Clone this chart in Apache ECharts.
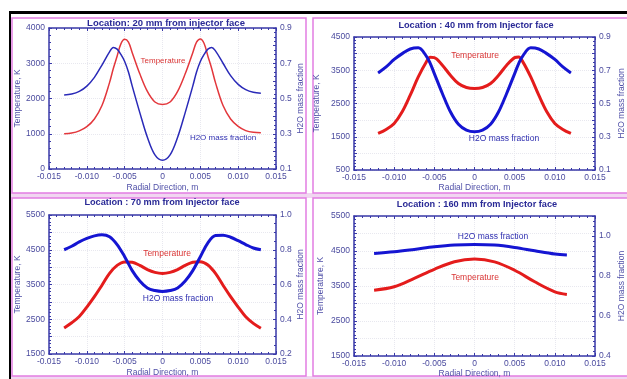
<!DOCTYPE html>
<html>
<head>
<meta charset="utf-8">
<script src="https://cdn.jsdelivr.net/npm/echarts@6/dist/echarts.min.js"></script>
<style>
html,body{margin:0;padding:0;background:#fff;}
#c{width:627px;height:379px;}
</style>
</head>
<body>
<div id="c"></div>
<script>
// ---------- DATA ----------
var titles = [
  'Location: 20 mm from injector face',
  'Location : 40 mm from Injector face',
  'Location : 70 mm from Injector face',
  'Location : 160 mm from Injector face'
];
var xTicks = [-0.015, -0.010, -0.005, 0, 0.005, 0.010, 0.015];

var xs1 = [-0.013,-0.012,-0.011,-0.010,-0.009,-0.008,-0.007,-0.0065,-0.006,-0.0055,-0.005,-0.0045,-0.004,-0.003,-0.002,-0.001,0,
           0.001,0.002,0.003,0.004,0.0045,0.005,0.0055,0.006,0.0065,0.007,0.008,0.009,0.010,0.011,0.012,0.013];
var temp1 = [1000,1020,1080,1200,1420,1800,2450,2850,3200,3550,3680,3600,3300,2700,2200,1900,1830,
             1900,2200,2700,3300,3600,3690,3560,3200,2850,2450,1800,1420,1210,1090,1040,1030];
var h2o1 = [0.52,0.525,0.54,0.57,0.62,0.69,0.765,0.79,0.78,0.75,0.71,0.65,0.57,0.42,0.28,0.18,0.15,
            0.18,0.28,0.42,0.57,0.65,0.71,0.75,0.78,0.79,0.77,0.70,0.63,0.58,0.55,0.535,0.53];

var xs2 = [-0.012,-0.011,-0.010,-0.009,-0.008,-0.007,-0.006,-0.0055,-0.005,-0.004,-0.003,-0.002,-0.001,0,
           0.001,0.002,0.003,0.004,0.005,0.0055,0.006,0.007,0.008,0.009,0.010,0.011,0.012];
var temp2 = [1600,1720,1900,2250,2750,3300,3750,3890,3880,3650,3350,3100,2980,2950,
             2980,3100,3350,3650,3880,3900,3760,3300,2750,2250,1900,1720,1600];
var h2o2 = [0.684,0.72,0.765,0.80,0.828,0.835,0.785,0.74,0.68,0.56,0.45,0.375,0.34,0.33,
            0.34,0.375,0.45,0.56,0.68,0.74,0.785,0.835,0.828,0.80,0.765,0.72,0.684];

var xs3 = [-0.013,-0.012,-0.011,-0.010,-0.009,-0.008,-0.007,-0.006,-0.005,-0.004,-0.003,-0.002,-0.001,0,
           0.001,0.002,0.003,0.004,0.005,0.006,0.007,0.008,0.009,0.010,0.011,0.012,0.013];
var temp3 = [2250,2400,2580,2850,3150,3480,3820,4050,4150,4140,4050,3930,3850,3820,
             3850,3930,4050,4140,4155,4060,3820,3480,3150,2850,2570,2380,2240];
var h2o3 = [0.80,0.82,0.845,0.865,0.88,0.886,0.875,0.83,0.76,0.68,0.62,0.58,0.565,0.56,
            0.565,0.58,0.62,0.68,0.76,0.84,0.882,0.884,0.872,0.852,0.83,0.81,0.80];

var xs4 = [-0.0125,-0.010,-0.0075,-0.005,-0.0025,0,0.0025,0.005,0.0075,0.010,0.0115];
var temp4 = [3380,3477,3718,3976,4193,4270,4190,3950,3620,3334,3260];
var h2o4 = [0.913,0.921,0.933,0.946,0.955,0.958,0.955,0.943,0.926,0.910,0.905];

var tempRanges = [[0,4000,1000,0],[500,4500,500,500],[1500,5500,500,1500],[1500,5500,500,1500]];
var fracRanges = [[0.1,0.9,0.1,1],[0.1,0.9,0.1,1],[0.2,1.0,0.2,-1],[0.4,1.1,0.1,0]];

// ---------- LAYOUT / STYLE ----------
var grids = [
  {left:49, top:28, width:227, height:141},
  {left:354, top:37, width:243, height:133},
  {left:49, top:215, width:227, height:139},
  {left:354, top:216, width:243, height:140}
];
var leftGap = [27, 33, 27, 29];
var rightGap = [20, 22, 20, 22];
var xGap = [14, 13, 14, 13];
var lineW = [1.5, 3, 3, 3];
var redC = ['#e3373c', '#e41c1c', '#e41c1c', '#e41c1c'];
var blueC = ['#2a2ab8', '#1515d2', '#1515d2', '#1515d2'];
var axisC = '#3838a8';
var labC = '#4a4a9e';
var FF = '"Liberation Sans", Arial, sans-serif';

function xfmt(v){ if (Math.abs(v) < 1e-9) return '0'; return v.toFixed(3); }

var xAxis = [], yAxis = [], series = [];
var allX = [xs1, xs2, xs3, xs4], allT = [temp1, temp2, temp3, temp4], allH = [h2o1, h2o2, h2o3, h2o4];

for (var i = 0; i < 4; i++) {
  var common = {
    type:'value', gridIndex:i, min:-0.015, max:0.015, interval:0.005,
    axisLine:{onZero:false, lineStyle:{color:axisC, width:1.5}},
    axisTick:{inside:true, length:3, lineStyle:{color:axisC}},
    minorTick:{show:true, splitNumber:5, length:2, lineStyle:{color:axisC}}
  };
  xAxis.push(Object.assign({}, common, {
    position:'bottom',
    axisLabel:{color:labC, fontSize:8.5, fontFamily:FF, margin:3, formatter:xfmt},
    splitLine:{show:true, lineStyle:{color:'#e8e8ef', type:'dotted'}},
    name:'Radial Direction, m', nameLocation:'middle', nameGap:xGap[i],
    nameTextStyle:{color:'#5050a8', fontSize:8.5, fontFamily:FF}
  }));
  xAxis.push(Object.assign({}, common, {
    position:'top', axisLabel:{show:false}, splitLine:{show:false}
  }));

  (function(tr, fr, idx){
    yAxis.push({
      type:'value', gridIndex:idx, position:'left', min:tr[0], max:tr[1], interval:tr[2],
      axisLine:{show:true, onZero:false, lineStyle:{color:axisC, width:1.5}},
      axisTick:{inside:true, length:3, lineStyle:{color:axisC}},
      minorTick:{show:true, splitNumber:5, length:2, lineStyle:{color:axisC}},
      splitLine:{show:true, lineStyle:{color:'#e8e8ef', type:'dotted'}},
      axisLabel:{color:labC, fontSize:8.5, fontFamily:FF, margin:4,
        formatter:function(v){ return ((v - tr[3]) % 1000 === 0) ? String(v) : ''; }},
      name:'Temperature, K', nameLocation:'middle', nameGap:leftGap[idx], nameRotate:90,
      nameTextStyle:{color:'#5050a8', fontSize:8.5, fontFamily:FF}
    });
    yAxis.push({
      type:'value', gridIndex:idx, position:'right', min:fr[0], max:fr[1], interval:fr[2],
      axisLine:{show:true, onZero:false, lineStyle:{color:axisC, width:1.5}},
      axisTick:{inside:true, length:3, lineStyle:{color:axisC}},
      minorTick:{show:true, splitNumber:4, length:2, lineStyle:{color:axisC}},
      splitLine:{show:false},
      axisLabel:{color:labC, fontSize:8.5, fontFamily:FF, margin:4,
        formatter:function(v){
          var k = Math.round(v * 10);
          if (fr[3] === 1 && k % 2 !== 1) return '';
          if (fr[3] === 0 && k % 2 !== 0) return '';
          return (k / 10).toFixed(1);
        }},
      name:'H2O mass fraction', nameLocation:'middle', nameGap:rightGap[idx], nameRotate:90,
      nameTextStyle:{color:'#5050a8', fontSize:8.5, fontFamily:FF}
    });
  })(tempRanges[i], fracRanges[i], i);

  var td = allX[i].map(function(x, k){ return [x, allT[i][k]]; });
  var hd = allX[i].map(function(x, k){ return [x, allH[i][k]]; });
  series.push({type:'line', name:'Temperature', xAxisIndex:2*i, yAxisIndex:2*i, data:td,
    smooth:0.35, symbol:'none', lineStyle:{color:redC[i], width:lineW[i]}, z:3});
  series.push({type:'line', name:'H2O mass fraction', xAxisIndex:2*i, yAxisIndex:2*i+1, data:hd,
    smooth:0.35, symbol:'none', lineStyle:{color:blueC[i], width:lineW[i]}, z:3});
}

// text annotations (titles and series labels)
var titlePos = [[166, 23.5, 9.5], [476, 25, 9.2], [162, 202.5, 9.2], [477, 204, 9.2]];
var tempLab = [[163, 61, 8], [475, 56, 8.5], [167, 254, 8.5], [475, 278, 8.5]];
var h2oLab = [[223, 138, 8], [504, 139, 8.5], [178, 299, 8.5], [493, 237, 8.5]];

var graphic = [
  {type:'rect', shape:{x:11, y:193, width:616, height:5}, style:{fill:'#f1d6f1'}, z:-10},
  {type:'rect', shape:{x:11, y:376, width:616, height:3}, style:{fill:'#f1d6f1'}, z:-10},
  {type:'rect', shape:{x:12, y:18, width:294, height:175}, style:{fill:'none', stroke:'#e27ee2', lineWidth:1.5}, z:-5},
  {type:'rect', shape:{x:313, y:18, width:330, height:175}, style:{fill:'none', stroke:'#e27ee2', lineWidth:1.5}, z:-5},
  {type:'rect', shape:{x:12, y:198, width:294, height:178}, style:{fill:'none', stroke:'#e27ee2', lineWidth:1.5}, z:-5},
  {type:'rect', shape:{x:313, y:198, width:330, height:178}, style:{fill:'none', stroke:'#e27ee2', lineWidth:1.5}, z:-5},
  {type:'rect', shape:{x:9, y:11, width:618, height:3}, style:{fill:'#000'}, z:10},
  {type:'rect', shape:{x:9, y:11, width:2, height:368}, style:{fill:'#000'}, z:10}
];
for (var j = 0; j < 4; j++) {
  graphic.push({type:'text', x:titlePos[j][0], y:titlePos[j][1], z:20,
    style:{text:titles[j], fill:'#2a2a96', align:'center', verticalAlign:'middle',
      font:'bold ' + titlePos[j][2] + 'px "Liberation Sans", Arial, sans-serif'}});
  graphic.push({type:'text', x:tempLab[j][0], y:tempLab[j][1], z:20,
    style:{text:'Temperature', fill:'#d93434', align:'center', verticalAlign:'middle',
      font:tempLab[j][2] + 'px "Liberation Sans", Arial, sans-serif'}});
  graphic.push({type:'text', x:h2oLab[j][0], y:h2oLab[j][1], z:20,
    style:{text:'H2O mass fraction', fill:'#2f2fb0', align:'center', verticalAlign:'middle',
      font:h2oLab[j][2] + 'px "Liberation Sans", Arial, sans-serif'}});
}

var chart = echarts.init(document.getElementById('c'), null, {renderer:'canvas'});
chart.setOption({
  backgroundColor:'#ffffff',
  animation:false,
  grid:grids,
  xAxis:xAxis,
  yAxis:yAxis,
  series:series,
  graphic:graphic
});
</script>
</body>
</html>
